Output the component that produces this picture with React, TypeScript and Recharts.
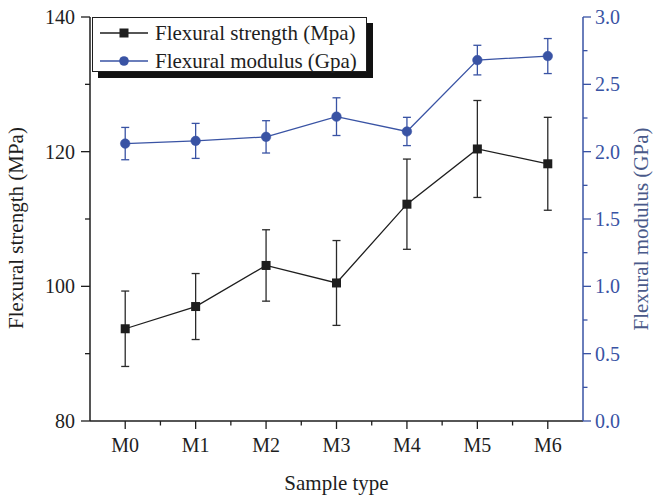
import {
  ComposedChart,
  ErrorBar,
  Legend,
  Line,
  XAxis,
  YAxis,
} from "recharts";

const CATEGORIES = ["M0", "M1", "M2", "M3", "M4", "M5", "M6"];
const STRENGTH = [93.7, 97.0, 103.1, 100.5, 112.2, 120.4, 118.2];
const STRENGTH_ERR = [5.6, 4.9, 5.3, 6.3, 6.7, 7.2, 6.9];
const MODULUS = [2.06, 2.08, 2.11, 2.26, 2.15, 2.68, 2.71];
const MODULUS_ERR = [0.12, 0.13, 0.12, 0.14, 0.105, 0.11, 0.13];

const X_TICKS = [-0.5, 0, 0.5, 1, 1.5, 2, 2.5, 3, 3.5, 4, 4.5, 5, 5.5, 6, 6.5];
const LEFT_TICKS = [80, 90, 100, 110, 120, 130, 140];
const RIGHT_TICKS = [
  0, 0.25, 0.5, 0.75, 1, 1.25, 1.5, 1.75, 2, 2.25, 2.5, 2.75, 3,
];

const FONT = '"Liberation Serif", "Times New Roman", serif';
const INK = "#1e1e1e";
const BLUE = "#3953a4";

const data = CATEGORIES.map((name, i) => ({
  idx: i,
  name,
  strength: STRENGTH[i],
  strengthErr: STRENGTH_ERR[i],
  modulus: MODULUS[i],
  modulusErr: MODULUS_ERR[i],
}));

function BottomTick({ x, y, payload }: any) {
  const v = payload.value;
  const major = Number.isInteger(v);
  if (v === -0.5 || v === 6.5) return <g />;
  return (
    <g>
      <line x1={x} x2={x} y1={y} y2={y + (major ? 8 : 4.5)} stroke={INK} strokeWidth={1.3} />
      {major && (
        <text x={x} y={y + 31} textAnchor="middle" fontFamily={FONT} fontSize={20} fill={INK}>
          {CATEGORIES[v]}
        </text>
      )}
    </g>
  );
}

function TopTick({ x, y, payload }: any) {
  const v = payload.value;
  if (v === -0.5 || v === 6.5) return <g />;
  const major = Number.isInteger(v);
  return <line x1={x} x2={x} y1={y} y2={y + (major ? 7 : 4)} stroke={INK} strokeWidth={1.3} />;
}

function LeftTick({ x, y, payload }: any) {
  const v = payload.value;
  const major = v % 20 === 0;
  return (
    <g>
      <line x1={x - (major ? 9 : 5)} x2={x} y1={y} y2={y} stroke={INK} strokeWidth={1.3} />
      {major && (
        <text x={x - 15} y={y + 7} textAnchor="end" fontFamily={FONT} fontSize={20} fill={INK}>
          {v}
        </text>
      )}
    </g>
  );
}

function RightTick({ x, y, payload }: any) {
  const v = payload.value;
  const major = Number.isInteger(v * 2);
  return (
    <g>
      <line x1={x} x2={x + (major ? 8 : 4.5)} y1={y} y2={y} stroke={BLUE} strokeWidth={1.3} />
      {major && (
        <text x={x + 12} y={y + 7} textAnchor="start" fontFamily={FONT} fontSize={20} fill={BLUE}>
          {v.toFixed(1)}
        </text>
      )}
    </g>
  );
}

function LeftTitle({ viewBox }: any) {
  const cx = viewBox.x + 23;
  const cy = viewBox.y + viewBox.height / 2 + 9;
  return (
    <text x={cx} y={cy} transform={`rotate(-90 ${cx} ${cy})`} textAnchor="middle" fontFamily={FONT} fontSize={21} fill={INK}>
      Flexural strength (MPa)
    </text>
  );
}

function RightTitle({ viewBox }: any) {
  const cx = viewBox.x + 65;
  const cy = viewBox.y + viewBox.height / 2 + 10;
  return (
    <text x={cx} y={cy} transform={`rotate(-90 ${cx} ${cy})`} textAnchor="middle" fontFamily={FONT} fontSize={21} fill="#4a5a8a">
      Flexural modulus (GPa)
    </text>
  );
}

function BottomTitle({ viewBox }: any) {
  return (
    <text x={viewBox.x + viewBox.width / 2} y={viewBox.y + 69} textAnchor="middle" fontFamily={FONT} fontSize={21} fill={INK}>
      Sample type
    </text>
  );
}

function SquareDot(props: any) {
  const { cx, cy, index } = props;
  return <rect key={`sq-${index}`} x={cx - 4.5} y={cy - 4.5} width={9} height={9} fill={INK} />;
}

function LegendBox() {
  const row = { display: "flex", alignItems: "center", height: 28 } as const;
  return (
    <div
      style={{
        width: 275,
        height: 55,
        boxSizing: "border-box",
        border: `1px solid ${INK}`,
        background: "#fff",
        boxShadow: "6px 6px 0 #111",
        paddingTop: 1,
        fontFamily: FONT,
        fontSize: 21,
        color: INK,
        lineHeight: 1,
      }}
    >
      <div style={row}>
        <svg width={62} height={14} style={{ flex: "none" }}>
          <line x1={7} x2={55} y1={7} y2={7} stroke={INK} strokeWidth={1.3} />
          <rect x={26.5} y={2.5} width={9} height={9} fill={INK} />
        </svg>
        <span>Flexural strength (Mpa)</span>
      </div>
      <div style={row}>
        <svg width={62} height={14} style={{ flex: "none" }}>
          <line x1={7} x2={55} y1={7} y2={7} stroke={BLUE} strokeWidth={1.3} />
          <circle cx={31} cy={7} r={4.8} fill={BLUE} />
        </svg>
        <span>Flexural modulus (Gpa)</span>
      </div>
    </div>
  );
}

export default function App() {
  return (
    <div style={{ position: "absolute", left: 0, top: 0, width: 655, height: 498, background: "#fff" }}>
      <ComposedChart
        width={655}
        height={498}
        data={data}
        margin={{ top: 17, right: 0, bottom: 0, left: 0 }}
      >
        <XAxis
          xAxisId="bottom"
          dataKey="idx"
          type="number"
          domain={[-0.5, 6.5]}
          ticks={X_TICKS}
          interval={0}
          height={77}
          tickSize={0}
          tickMargin={0}
          tickLine={false}
          tick={<BottomTick />}
          axisLine={{ stroke: INK, strokeWidth: 1.5 }}
          label={<BottomTitle />}
        />
        <XAxis
          xAxisId="top"
          orientation="top"
          type="number"
          domain={[-0.5, 6.5]}
          ticks={X_TICKS}
          interval={0}
          height={0}
          tickSize={0}
          tickMargin={0}
          tickLine={false}
          tick={<TopTick />}
          axisLine={{ stroke: INK, strokeWidth: 1.5 }}
          allowDataOverflow
        />
        <YAxis
          yAxisId="left"
          width={90}
          domain={[80, 140]}
          ticks={LEFT_TICKS}
          interval={0}
          tickSize={0}
          tickMargin={0}
          tickLine={false}
          tick={<LeftTick />}
          axisLine={{ stroke: INK, strokeWidth: 1.5 }}
          label={<LeftTitle />}
        />
        <YAxis
          yAxisId="right"
          orientation="right"
          width={72}
          domain={[0, 3]}
          ticks={RIGHT_TICKS}
          interval={0}
          tickSize={0}
          tickMargin={0}
          tickLine={false}
          tick={<RightTick />}
          axisLine={{ stroke: BLUE, strokeWidth: 1.5 }}
          label={<RightTitle />}
        />
        <Legend
          layout="vertical"
          verticalAlign="middle"
          align="center"
          content={() => <LegendBox />}
          wrapperStyle={{ position: "absolute", left: 92, top: 17, width: "auto", height: "auto" }}
        />
        <Line
          xAxisId="bottom"
          yAxisId="left"
          dataKey="strength"
          name="Flexural strength (Mpa)"
          stroke={INK}
          strokeWidth={1.3}
          dot={<SquareDot />}
          activeDot={false}
          isAnimationActive={false}
        >
          <ErrorBar dataKey="strengthErr" direction="y" width={4} stroke="#2a2a2a" strokeWidth={1.3} isAnimationActive={false} />
        </Line>
        <Line
          xAxisId="bottom"
          yAxisId="right"
          dataKey="modulus"
          name="Flexural modulus (Gpa)"
          stroke={BLUE}
          strokeWidth={1.3}
          dot={{ r: 4.8, fill: BLUE, stroke: BLUE, strokeWidth: 0.5 }}
          activeDot={false}
          isAnimationActive={false}
        >
          <ErrorBar dataKey="modulusErr" direction="y" width={4} stroke={BLUE} strokeWidth={1.3} isAnimationActive={false} />
        </Line>
      </ComposedChart>
    </div>
  );
}
